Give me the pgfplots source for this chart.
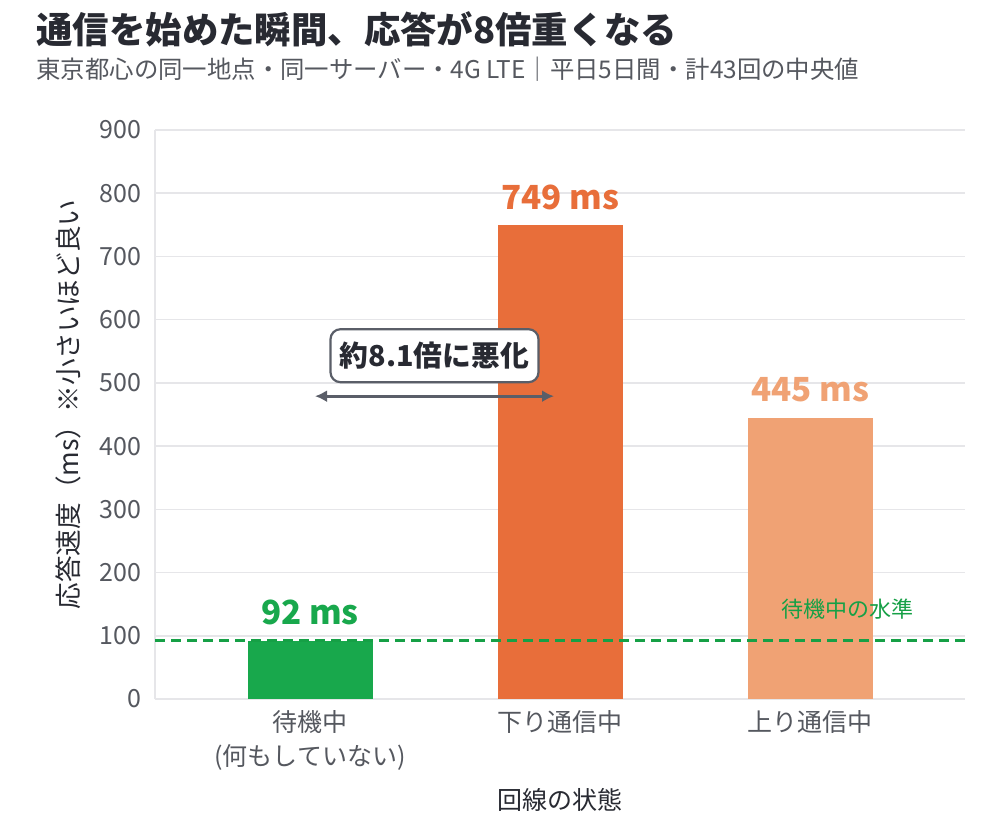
\documentclass[border=0pt]{standalone}
\usepackage{fontspec}
\setmainfont{Noto Sans CJK JP}
\usepackage{pgfplots}
\pgfplotsset{compat=1.18}
\usetikzlibrary{arrows.meta}
\definecolor{cgreen}{RGB}{24,168,76}
\definecolor{cdash}{RGB}{22,160,70}
\definecolor{corange}{RGB}{232,110,58}
\definecolor{cpeach}{RGB}{240,162,116}
\definecolor{ctitle}{RGB}{40,42,50}
\definecolor{csub}{RGB}{85,88,95}
\definecolor{cgrid}{RGB}{230,230,233}
\definecolor{cbox}{RGB}{90,94,104}
\begin{document}
\begin{tikzpicture}
\useasboundingbox (0,0) rectangle (500pt,418.5pt);
\fill[white] (0,0) rectangle (500pt,418.5pt);
\node[anchor=west,font=\bfseries\fontsize{18.2}{21}\selectfont,text=ctitle,inner sep=0pt] at (18pt,404pt) {通信を始めた瞬間、応答が8倍重くなる};
\node[anchor=west,font=\fontsize{12.2}{14}\selectfont,text=csub,inner sep=0pt] at (18pt,384pt) {東京都心の同一地点・同一サーバー・4G LTE｜平日5日間・計43回の中央値};
\begin{axis}[
  at={(77.5pt,69pt)}, anchor=south west,
  scale only axis, width=405pt, height=284.5pt,
  xmin=-0.62, xmax=2.62, ymin=0, ymax=900,
  xtick={0,1,2},
  xticklabels={{待機中\\(何もしていない)},下り通信中,上り通信中},
  xticklabel style={align=center,font=\fontsize{12.5}{17}\selectfont,text=csub,yshift=-2pt},
  ytick={0,100,...,900},
  yticklabel style={font=\fontsize{12.5}{15}\selectfont,text=csub,xshift=-3.5pt},
  /pgf/number format/assume math mode=true,
  major tick length=0pt,
  ymajorgrids, grid style={cgrid,line width=0.8pt},
  axis x line*=bottom, axis y line*=left,
  x axis line style={draw=cgrid,line width=1.2pt,-},
  y axis line style={draw=cgrid,line width=0.6pt,-},
  xlabel={回線の状態}, ylabel={応答速度（ms）※小さいほど良い},
  xlabel style={font=\fontsize{12.5}{15}\selectfont,text=ctitle,at={(axis description cs:0.5,0)},anchor=center,yshift=-50.5pt},
  ylabel style={font=\fontsize{13.3}{15}\selectfont,text=ctitle,at={(axis description cs:0,0.5)},anchor=center,yshift=43.5pt,xshift=5pt},
  ybar, bar width=0.5, bar shift=0pt,
  nodes near coords,
  every node near coord/.append style={font=\bfseries\fontsize{16.6}{19}\selectfont,anchor=center,yshift=14pt},
  clip=false,
]
\addplot[fill=cgreen,draw=none,nodes near coords={92 ms},every node near coord/.append style={text=cgreen}] coordinates {(0,92)};
\addplot[fill=corange,draw=none,nodes near coords={749 ms},every node near coord/.append style={text=corange}] coordinates {(1,749)};
\addplot[fill=cpeach,draw=none,nodes near coords={445 ms},every node near coord/.append style={text=cpeach}] coordinates {(2,445)};
\draw[cdash,line width=1.5pt,dash pattern=on 5pt off 3pt] (axis cs:-0.62,92) -- (axis cs:2.64,92);
\node[text=cdash,font=\fontsize{11}{13}\selectfont] at (axis cs:2.148,142) {待機中の水準};
\draw[cbox,line width=1.5pt,{Latex[length=6pt,width=6pt]}-{Latex[length=6pt,width=6pt]}] (axis cs:0.02,479) -- (axis cs:0.976,479);
\node[draw=cbox,line width=1.1pt,fill=white,rounded corners=5pt,font=\bfseries\fontsize{14.4}{17}\selectfont,text=ctitle,minimum width=104pt,minimum height=26.5pt,inner sep=2pt] at (axis cs:0.498,543) {約8.1倍に悪化};
\end{axis}
\end{tikzpicture}
\end{document}
